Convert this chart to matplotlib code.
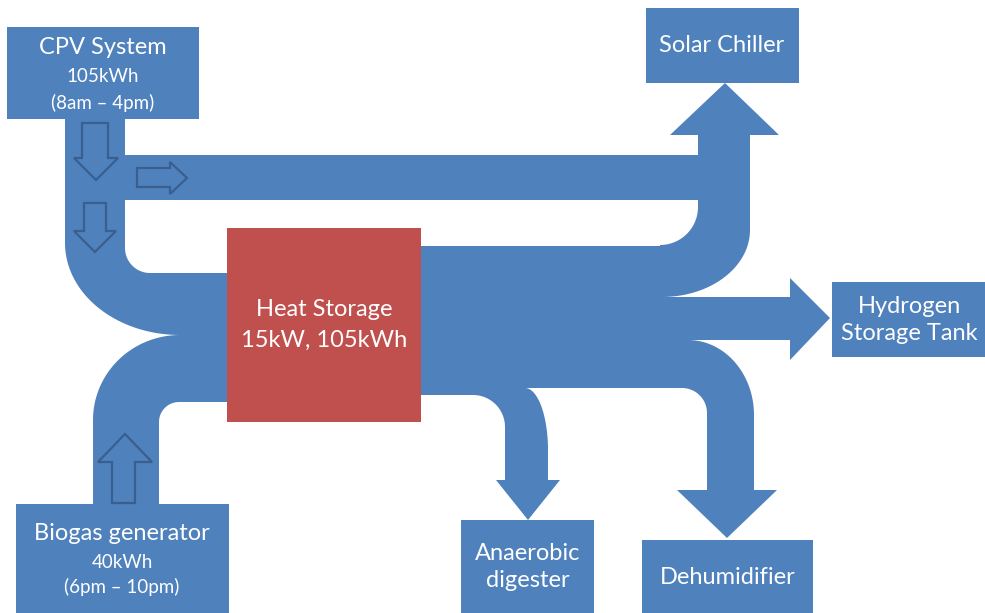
import numpy as np
import matplotlib
matplotlib.use("Agg")
import matplotlib.pyplot as plt
from matplotlib.patches import Polygon, Rectangle

plt.rcParams['font.family'] = ['Lato', 'DejaVu Sans']

BLUE = '#4F81BD'
RED = '#C0504D'
EDGE = '#3A5F8E'

# ---- diagram content ----
source_names = ['CPV System', 'Biogas generator']
source_energy = ['105kWh', '40kWh']
source_hours = ['(8am \u2013 4pm)', '(6pm \u2013 10pm)']
storage_lines = ['Heat Storage', '15kW, 105kWh']
sink_names = ['Solar Chiller', 'Hydrogen\nStorage Tank', 'Anaerobic\ndigester', 'Dehumidifier']

fig = plt.figure(figsize=(9.85, 6.13), dpi=100)
ax = fig.add_axes([0, 0, 1, 1])
ax.set_xlim(0, 985)
ax.set_ylim(613, 0)
ax.axis('off')


def arc(cx, cy, rx, ry, a0, a1, n=40):
    t = np.radians(np.linspace(a0, a1, n))
    return list(zip(cx + rx * np.cos(t), cy + ry * np.sin(t)))


def poly(pts, fc=BLUE, ec='none', lw=0, z=1):
    ax.add_patch(Polygon(pts, closed=True, facecolor=fc, edgecolor=ec, lw=lw, zorder=z,
                         joinstyle='miter'))


# CPV stem bending into storage
pts = [(65, 119), (125, 119), (125, 248)]
pts += arc(150, 248, 25, 25, 180, 90)
pts += [(228, 273), (228, 335), (180, 335)]
pts += arc(180, 243, 115, 92, 90, 180)
poly(pts)

# Biogas stem bending into storage
pts = [(93, 505), (93, 420)]
pts += arc(180, 420, 87, 85, 180, 270)
pts += [(228, 335), (228, 402), (179, 402)]
pts += arc(179, 422, 20, 20, 270, 180)
pts += [(159, 505)]
poly(pts)

# Outflow network
pts = [(420, 246), (660, 246)]
pts += arc(660, 207, 38, 38, 90, 0)
pts += [(698, 200), (125, 200), (125, 155), (698, 155), (698, 135),
        (670, 135), (725, 83), (779, 135), (750, 135), (750, 230)]
pts += arc(662, 230, 88, 67, 0, 90)
pts += [(790, 297), (790, 278), (830, 318), (790, 360), (790, 340), (688, 340)]
pts += arc(688, 415, 66, 75, 270, 360)
pts += [(754, 490), (777, 490), (727, 538), (677, 490), (707, 490), (707, 413)]
pts += arc(682, 413, 25, 25, 0, -90)
pts += [(525, 388)]
pts += arc(525, 450, 23, 62, 270, 360)
pts += [(548, 480), (560, 480), (528, 520), (496, 480), (505, 480), (505, 427)]
pts += arc(473, 427, 32, 32, 0, -90)
pts += [(420, 395)]
poly(pts)

# Boxes
def box(x0, y0, x1, y1, fc=BLUE):
    ax.add_patch(Rectangle((x0, y0), x1 - x0, y1 - y0, facecolor=fc, edgecolor='none', zorder=2))

box(7, 27, 199, 119)
box(646, 8, 799, 83)
box(832, 282, 985, 357)
box(16, 504, 229, 613)
box(461, 520, 594, 613)
box(642, 540, 813, 613)
box(227, 228, 421, 422, fc=RED)

# Hollow direction arrows
poly([(82, 123), (108, 123), (108, 158), (118, 158), (96, 180), (74, 158), (82, 158)],
     ec=EDGE, lw=1.6, z=3)
poly([(84, 203), (106, 203), (106, 231), (116, 231), (95, 252), (74, 231), (84, 231)],
     ec=EDGE, lw=1.6, z=3)
poly([(137, 168), (170, 168), (170, 162), (187, 178), (170, 194), (170, 187), (137, 187)],
     ec=EDGE, lw=1.6, z=3)
poly([(112, 503), (112, 462), (98, 462), (125, 434), (152, 462), (135, 462), (135, 503)],
     ec=EDGE, lw=1.6, z=3)

# Text
BIG = 17
SMALL = 13.5
tc = 'white'
ax.text(103, 48, source_names[0], fontsize=BIG, color=tc, ha='center', va='center', zorder=5)
ax.text(103, 77, source_energy[0], fontsize=SMALL, color=tc, ha='center', va='center', zorder=5)
ax.text(103, 103, source_hours[0], fontsize=SMALL, color=tc, ha='center', va='center', zorder=5)
ax.text(122, 534, source_names[1], fontsize=BIG, color=tc, ha='center', va='center', zorder=5)
ax.text(122, 562, source_energy[1], fontsize=SMALL, color=tc, ha='center', va='center', zorder=5)
ax.text(122, 587, source_hours[1], fontsize=SMALL, color=tc, ha='center', va='center', zorder=5)
ax.text(324, 309, storage_lines[0], fontsize=BIG, color=tc, ha='center', va='center', zorder=5)
ax.text(324, 340, storage_lines[1], fontsize=BIG, color=tc, ha='center', va='center', zorder=5)
ax.text(722, 45, sink_names[0], fontsize=BIG, color=tc, ha='center', va='center', zorder=5)
ax.text(909, 320, sink_names[1], fontsize=BIG, color=tc, ha='center', va='center',
        linespacing=1.3, zorder=5)
ax.text(528, 567, sink_names[2], fontsize=BIG, color=tc, ha='center', va='center',
        linespacing=1.3, zorder=5)
ax.text(728, 578, sink_names[3], fontsize=BIG, color=tc, ha='center', va='center', zorder=5)

fig.savefig('out.png', dpi=100, facecolor='white')
